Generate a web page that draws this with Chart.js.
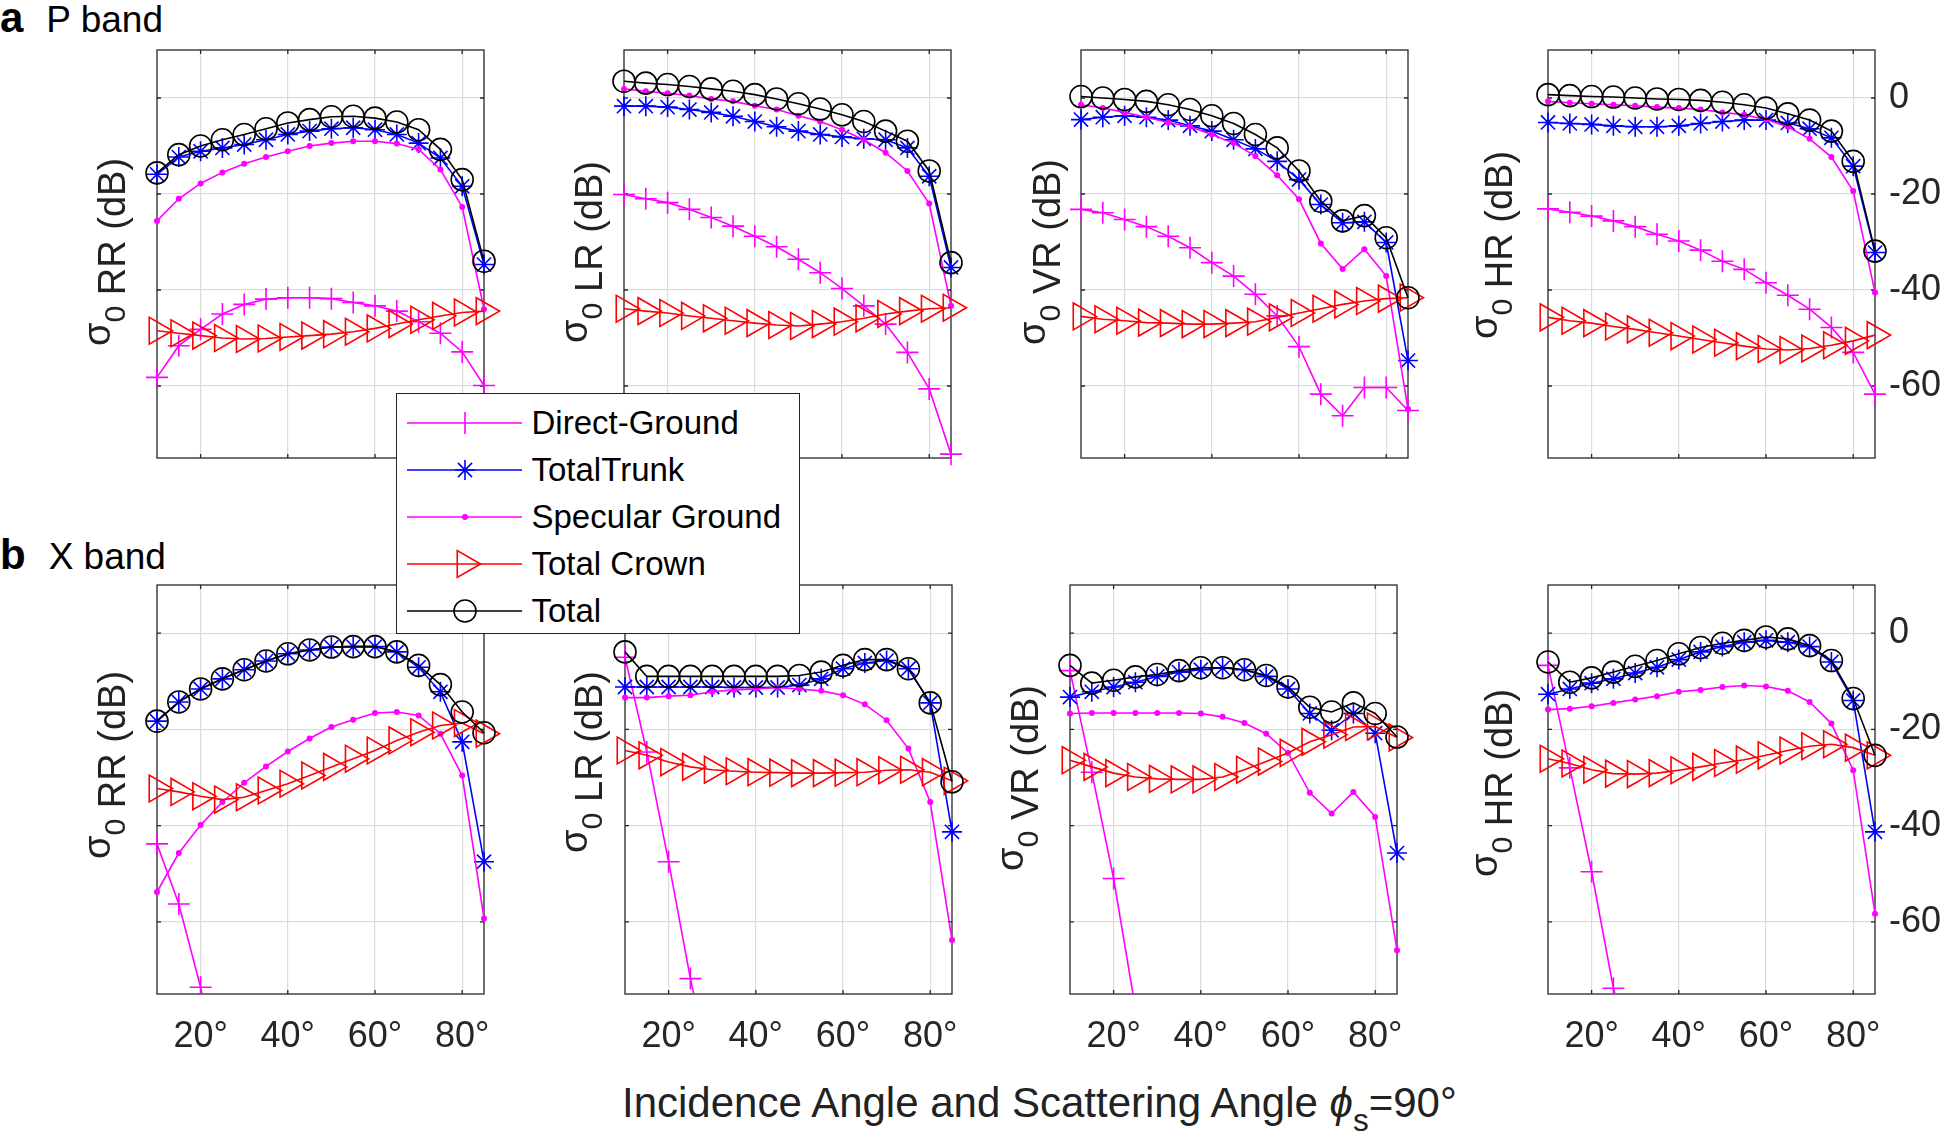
<!DOCTYPE html>
<html>
<head>
<meta charset="utf-8">
<script src="https://cdn.jsdelivr.net/npm/chart.js@4.4.1/dist/chart.umd.min.js"></script>
<style>
  body { margin:0; width:1943px; height:1140px; overflow:hidden; background:#fff; position:relative;
         font-family:'Liberation Sans', Arial, sans-serif; color:#000; }
  .panel { position:absolute; }
  .ylab { position:absolute; width:320px; height:40px; line-height:40px; text-align:center; font-size:38px;
          color:#222; transform:rotate(-90deg); white-space:nowrap; }
  .ylab .sig { position:relative; top:-0.4em; }
  .ylab .sub { font-size:0.8em; }
  .tag { position:absolute; white-space:nowrap; line-height:1; }
  .tag b { font-size:42px; font-weight:bold; }
  .tag span { font-size:37px; margin-left:23px; }
  #xtitle { position:absolute; left:622px; top:1082px; font-size:42px; line-height:42px; white-space:nowrap; color:#222; }
  #xtitle sub { font-size:0.75em; vertical-align:-0.45em; line-height:0; }
  #legend { position:absolute; left:396px; top:393px; width:404px; height:241px; background:#fff;
            border:1.5px solid #262626; z-index:5; padding-top:5px; box-sizing:border-box; }
  #legend .row { display:flex; align-items:center; height:47.1px; }
  #legend svg { margin-left:9.5px; }
  #legend .txt { margin-left:10px; font-size:33px; white-space:nowrap; }
</style>
</head>
<body>
<div class="tag" style="left:0px; top:-3px;"><b>a</b><span>P band</span></div>
<div class="tag" style="left:0px; top:534px;"><b>b</b><span>X band</span></div>
<div id="xtitle">Incidence Angle and Scattering Angle <i>ϕ</i><sub>s</sub>=90°</div>
<div id="legend"></div>
<script>
const angles = [10, 15, 20, 25, 30, 35, 40, 45, 50, 55, 60, 65, 70, 75, 80, 85];
const xTicks = [20, 40, 60, 80];
const yTicks = [-60, -40, -20, 0];
const xMin = 10, xMax = 85, yMin = -75, yMax = 10;
const seriesNames = ['Direct-Ground', 'TotalTrunk', 'Specular Ground', 'Total Crown', 'Total'];

// rows follow seriesNames: Direct-Ground, TotalTrunk, Specular Ground, Total Crown, Total
// P band
const pRR = [
  [-58.2, -51.6, -48.2, -45.0, -43.0, -41.9, -41.6, -41.6, -41.8, -42.6, -43.3, -44.4, -46.6, -49.0, -52.9, -59.9],
  [-15.9, -12.3, -11.1, -10.4, -9.7, -8.7, -7.6, -6.9, -6.4, -6.2, -6.6, -7.6, -9.4, -12.5, -18.4, -34.7],
  [-25.6, -21.0, -17.8, -15.5, -13.7, -12.3, -11.1, -10.0, -9.4, -9.0, -9.0, -9.5, -10.7, -14.9, -22.7, -44.0],
  [-48.5, -49.0, -49.5, -50.0, -50.2, -50.1, -49.8, -49.5, -49.2, -48.7, -48.0, -47.1, -46.2, -45.4, -44.7, -44.4],
  [-15.6, -11.8, -10.0, -8.7, -7.6, -6.4, -5.2, -4.5, -3.9, -3.8, -4.2, -5.0, -6.6, -10.7, -17.0, -34.0]
];
const pLR = [
  [-20.1, -21.0, -21.8, -23.2, -24.9, -26.7, -28.8, -31.0, -33.6, -36.4, -39.7, -43.3, -47.1, -53.0, -60.6, -74.2],
  [-1.7, -1.7, -1.9, -2.4, -3.0, -3.8, -4.9, -6.0, -6.9, -7.6, -8.1, -8.5, -8.7, -10.4, -16.3, -35.3],
  [1.9, 1.4, 1.0, 0.5, -0.2, -0.7, -1.6, -2.4, -3.7, -4.9, -6.6, -8.7, -11.4, -15.2, -22.0, -43.3],
  [-43.9, -44.4, -44.8, -45.4, -45.9, -46.4, -46.9, -47.3, -47.5, -47.1, -46.6, -45.9, -45.0, -44.4, -43.9, -43.7],
  [3.5, 3.1, 2.8, 2.4, 1.9, 1.4, 0.7, -0.2, -1.2, -2.3, -3.5, -4.9, -6.9, -9.0, -15.2, -34.3]
];
const pVR = [
  [-23.2, -23.9, -25.3, -26.8, -28.8, -31.2, -34.3, -37.1, -40.9, -45.4, -51.8, -61.7, -66.2, -60.3, -60.3, -65.1],
  [-4.5, -4.0, -3.7, -4.0, -4.6, -5.8, -6.9, -8.7, -10.6, -13.2, -17.0, -22.2, -26.0, -25.8, -30.1, -54.7],
  [-1.4, -2.1, -3.0, -4.0, -5.1, -6.0, -7.6, -9.4, -12.1, -16.1, -21.1, -30.3, -35.6, -31.5, -37.1, -64.8],
  [-45.5, -46.1, -46.4, -46.8, -46.9, -47.1, -47.1, -46.9, -46.6, -45.7, -44.8, -43.9, -43.0, -42.3, -41.8, -41.6],
  [0.3, 0.0, -0.3, -0.7, -1.4, -2.4, -3.7, -5.3, -7.6, -10.4, -15.2, -21.5, -25.6, -24.5, -29.1, -41.6]
];
const pHR = [
  [-23.1, -23.8, -24.6, -25.6, -26.8, -28.4, -29.8, -31.7, -34.0, -35.7, -38.5, -41.1, -44.0, -47.8, -53.0, -61.7],
  [-5.1, -5.3, -5.5, -5.8, -6.0, -6.0, -5.8, -5.3, -4.9, -4.6, -4.6, -5.2, -6.4, -8.3, -14.2, -32.2],
  [-0.7, -1.0, -1.2, -1.4, -1.6, -1.9, -2.1, -2.4, -3.0, -3.5, -4.5, -6.0, -8.5, -12.3, -19.4, -40.5],
  [-45.7, -46.4, -46.9, -47.6, -48.2, -48.9, -49.6, -50.3, -51.0, -51.7, -52.3, -52.5, -52.2, -51.5, -50.6, -49.4],
  [0.7, 0.5, 0.3, 0.2, 0.0, -0.2, -0.3, -0.5, -0.9, -1.4, -2.1, -3.3, -4.6, -6.9, -13.2, -31.9]
];
// X band
const xRR = [
  [-43.8, -56.3, -73.6, -95, null, null, null, null, null, null, null, null, null, null, null, null],
  [-18.3, -14.3, -11.6, -9.5, -7.6, -5.8, -4.3, -3.5, -2.9, -2.8, -2.8, -3.9, -7.1, -12.2, -22.6, -47.5],
  [-53.8, -45.7, -39.9, -35.1, -31.1, -27.7, -24.6, -21.9, -19.5, -18.0, -16.6, -16.4, -17.1, -20.9, -29.6, -59.3],
  [-32.3, -33.0, -33.9, -34.6, -34.1, -32.7, -31.3, -29.6, -27.8, -26.1, -24.4, -22.3, -20.6, -19.2, -18.7, -20.9],
  [-18.3, -14.3, -11.6, -9.5, -7.6, -5.8, -4.3, -3.5, -2.9, -2.8, -2.8, -3.9, -6.7, -10.7, -16.4, -20.7]
];
const xLR = [
  [-5.0, -24.7, -47.5, -71.8, -93, null, null, null, null, null, null, null, null, null, null, null],
  [-11.2, -11.2, -11.2, -11.2, -11.2, -11.3, -11.3, -11.3, -10.8, -9.5, -7.4, -6.2, -5.7, -7.4, -14.5, -41.3],
  [-13.4, -13.4, -13.1, -12.9, -12.2, -11.8, -11.6, -11.3, -11.6, -12.0, -12.9, -14.8, -18.1, -24.0, -35.1, -63.8],
  [-24.4, -25.4, -26.8, -27.8, -28.4, -28.7, -28.9, -29.0, -29.1, -29.1, -29.0, -28.9, -28.5, -28.4, -28.9, -30.7],
  [-3.9, -9.0, -9.0, -9.0, -9.0, -9.0, -9.0, -9.0, -8.8, -8.1, -6.7, -5.5, -5.5, -7.4, -14.5, -30.9]
];
const xVR = [
  [-7.8, -28.9, -51.0, -78, null, null, null, null, null, null, null, null, null, null, null, null],
  [-13.3, -12.2, -11.2, -10.2, -9.0, -8.1, -7.6, -7.2, -7.6, -9.0, -11.6, -16.7, -20.2, -16.7, -20.8, -45.7],
  [-16.7, -16.6, -16.6, -16.6, -16.6, -16.6, -16.7, -17.4, -18.7, -20.9, -24.9, -33.2, -37.5, -33.0, -38.2, -65.9],
  [-26.4, -27.8, -29.1, -29.9, -30.3, -30.4, -30.4, -29.9, -28.4, -26.7, -24.9, -22.6, -21.1, -19.5, -19.4, -21.7],
  [-6.7, -10.4, -9.8, -9.1, -8.6, -7.8, -7.2, -7.2, -7.6, -8.8, -11.2, -15.4, -16.4, -14.5, -16.7, -21.6]
];
const xHR = [
  [-6.7, -28.0, -49.6, -73.8, -90, null, null, null, null, null, null, null, null, null, null, null],
  [-12.7, -11.6, -10.4, -9.5, -8.3, -7.1, -5.5, -3.9, -2.8, -1.9, -1.5, -1.9, -2.8, -6.0, -14.0, -41.3],
  [-15.9, -15.7, -15.2, -14.5, -13.8, -13.1, -12.2, -11.8, -11.2, -10.9, -11.1, -12.0, -14.3, -18.8, -28.5, -58.3],
  [-26.1, -27.1, -28.4, -29.2, -29.3, -29.1, -28.5, -27.8, -27.0, -26.3, -25.4, -24.4, -23.5, -23.1, -23.8, -25.4],
  [-6.0, -10.2, -9.3, -8.1, -6.9, -5.7, -4.3, -3.0, -2.1, -1.5, -0.8, -1.2, -2.6, -5.7, -13.6, -25.4]
];

const seriesStyle = [
  { color: '#ff00ff', shape: 'cross', r: 11 },
  { color: '#0000ff', shape: 'star', r: 10 },
  { color: '#ff00ff', shape: 'circle', r: 3, filled: true },
  { color: '#ff0000', shape: 'triangle', r: 15.5, rot: 90 },
  { color: '#000000', shape: 'circle', r: 11 }
];

const family = "'Liberation Sans', Arial, sans-serif";
Chart.defaults.font.family = family;
const gridColor = '#dcdcdc';
const axisColor = '#262626';
const plotW = 327;

const panels = [
  { data: pRR, pol: 'RR', left: 157, top: 50, h: 408, showX: false, showY: false, labX: 125, labY: 252 },
  { data: pLR, pol: 'LR', left: 624, top: 50, h: 408, showX: false, showY: false, labX: 602, labY: 252 },
  { data: pVR, pol: 'VR', left: 1081, top: 50, h: 408, showX: false, showY: false, labX: 1060, labY: 252 },
  { data: pHR, pol: 'HR', left: 1548, top: 50, h: 408, showX: false, showY: true, labX: 1512, labY: 245 },
  { data: xRR, pol: 'RR', left: 157, top: 585, h: 409, showX: true, showY: false, labX: 125, labY: 765 },
  { data: xLR, pol: 'LR', left: 625, top: 585, h: 409, showX: true, showY: false, labX: 602, labY: 762 },
  { data: xVR, pol: 'VR', left: 1070, top: 585, h: 409, showX: true, showY: false, labX: 1038, labY: 778 },
  { data: xHR, pol: 'HR', left: 1548, top: 585, h: 409, showX: true, showY: true, labX: 1512, labY: 783 }
];

// axes box with small inward ticks, like matlab
const boxPlugin = {
  id: 'box',
  beforeDatasetsDraw(chart) {
    const { ctx, chartArea: a, scales } = chart;
    ctx.save();
    ctx.strokeStyle = axisColor;
    ctx.lineWidth = 1.3;
    ctx.strokeRect(a.left, a.top, a.right - a.left, a.bottom - a.top);
    ctx.beginPath();
    xTicks.forEach(v => {
      const x = scales.x.getPixelForValue(v);
      ctx.moveTo(x, a.bottom); ctx.lineTo(x, a.bottom - 4);
      ctx.moveTo(x, a.top); ctx.lineTo(x, a.top + 4);
    });
    yTicks.forEach(v => {
      const y = scales.y.getPixelForValue(v);
      ctx.moveTo(a.left, y); ctx.lineTo(a.left + 4, y);
      ctx.moveTo(a.right, y); ctx.lineTo(a.right - 4, y);
    });
    ctx.stroke();
    ctx.restore();
  }
};

function makePanel(p) {
  const padL = 40, padT = 40, axisR = 90, axisB = 80;
  const wrap = document.createElement('div');
  wrap.className = 'panel';
  wrap.style.left = (p.left - padL) + 'px';
  wrap.style.top = (p.top - padT) + 'px';
  const canvas = document.createElement('canvas');
  canvas.width = plotW + padL + axisR;
  canvas.height = p.h + padT + axisB;
  wrap.appendChild(canvas);
  document.body.appendChild(wrap);

  const datasets = p.data.map((vals, k) => {
    const st = seriesStyle[k];
    const below = vals.some(v => v !== null && v < yMin);
    return {
      label: seriesNames[k],
      data: angles.map((a, i) => ({ x: a, y: vals[i] })),
      borderColor: st.color,
      borderWidth: 1.6,
      backgroundColor: st.filled ? st.color : 'rgba(0,0,0,0)',
      pointStyle: st.shape,
      pointRadius: st.r,
      pointRotation: st.rot || 0,
      pointBorderColor: st.color,
      pointBackgroundColor: st.filled ? st.color : 'rgba(0,0,0,0)',
      pointBorderWidth: st.filled ? 0 : 1.6,
      tension: 0,
      fill: false,
      order: 5 - k,
      clip: below ? { left: 30, right: 30, top: 30, bottom: 0 } : false
    };
  });

  new Chart(canvas, {
    type: 'line',
    data: { datasets: datasets },
    options: {
      responsive: false,
      animation: false,
      layout: { padding: { left: padL, top: padT, right: 0, bottom: 0 } },
      plugins: { legend: { display: false }, tooltip: { enabled: false } },
      scales: {
        x: {
          type: 'linear', min: xMin, max: xMax, position: 'bottom',
          afterBuildTicks: s => { s.ticks = xTicks.map(v => ({ value: v })); },
          afterFit: s => { s.height = axisB; },
          grid: { color: gridColor, lineWidth: 1.2, drawTicks: false },
          border: { display: false },
          ticks: {
            display: p.showX, padding: 21, maxRotation: 0, autoSkip: false,
            color: axisColor, font: { size: 36 },
            callback: v => v + '°'
          }
        },
        y: {
          type: 'linear', min: yMin, max: yMax, position: 'right',
          afterBuildTicks: s => { s.ticks = yTicks.map(v => ({ value: v })); },
          afterFit: s => { s.width = axisR; },
          grid: { color: gridColor, lineWidth: 1.2, drawTicks: false },
          border: { display: false },
          ticks: { display: p.showY, padding: 14, color: axisColor, font: { size: 36 } }
        }
      }
    },
    plugins: [boxPlugin]
  });

  const lab = document.createElement('div');
  lab.className = 'ylab';
  lab.innerHTML = '<span class="sig">σ</span><span class="sub">0</span> ' + p.pol + ' (dB)';
  const cx = p.labX - 13;
  lab.style.left = (cx - 160) + 'px';
  lab.style.top = (p.labY - 20) + 'px';
  document.body.appendChild(lab);
}

panels.forEach(makePanel);

// legend
function legendIcon(st) {
  const c = 58, m = 22;
  let mark = '';
  if (st.shape === 'cross') {
    mark = `<line x1="${c}" y1="${m - st.r}" x2="${c}" y2="${m + st.r}" stroke="${st.color}" stroke-width="1.6"/>`;
  } else if (st.shape === 'star') {
    const d = st.r * Math.SQRT1_2;
    mark = `<path d="M${c} ${m - st.r}V${m + st.r}M${c - st.r} ${m}H${c + st.r}M${c - d} ${m - d}L${c + d} ${m + d}M${c - d} ${m + d}L${c + d} ${m - d}" stroke="${st.color}" stroke-width="1.6"/>`;
  } else if (st.shape === 'triangle') {
    const r = st.r, h = r * 0.866;
    mark = `<polygon points="${c + r},${m} ${c - r / 2},${m - h} ${c - r / 2},${m + h}" fill="none" stroke="${st.color}" stroke-width="1.6"/>`;
  } else {
    mark = st.filled
      ? `<circle cx="${c}" cy="${m}" r="${st.r}" fill="${st.color}"/>`
      : `<circle cx="${c}" cy="${m}" r="${st.r}" fill="none" stroke="${st.color}" stroke-width="1.6"/>`;
  }
  return `<svg width="115" height="44"><line x1="0" y1="${m}" x2="115" y2="${m}" stroke="${st.color}" stroke-width="1.6"/>${mark}</svg>`;
}
const legend = document.getElementById('legend');
seriesNames.forEach((name, k) => {
  const row = document.createElement('div');
  row.className = 'row';
  row.innerHTML = legendIcon(seriesStyle[k]) + '<span class="txt">' + name + '</span>';
  legend.appendChild(row);
});
</script>
</body>
</html>
